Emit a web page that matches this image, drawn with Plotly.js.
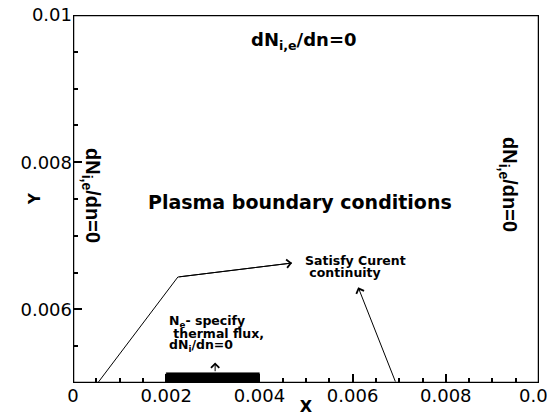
<!DOCTYPE html>
<html>
<head>
<meta charset="utf-8">
<script src="https://cdn.plot.ly/plotly-3.0.1.min.js"></script>
<style>
  html, body { margin: 0; padding: 0; background: #fff; overflow: hidden; }
  #chart { width: 547px; height: 416px; }
</style>
</head>
<body>
<div id="chart"></div>
<script>
// Axis ranges and ticks
const xRange = [0, 0.01];
const yRange = [0.005, 0.01];
const xTickVals = [0, 0.002, 0.004, 0.006, 0.008, 0.01];
const xTickText = ['0', '0.002', '0.004', '0.006', '0.008', '0.01'];
const yTickVals = [0.006, 0.008, 0.01];
const yTickText = ['0.006', '0.008', '0.01'];
const minorStep = 0.0005;

// Domain boundary (the frame of the computational box) built from the axis ranges
const frameX = [xRange[0], xRange[1], xRange[1], xRange[0], xRange[0]];
const frameY = [yRange[0], yRange[0], yRange[1], yRange[1], yRange[0]];

// Electrode (black bar on the bottom boundary)
const electrodeX = [0.002, 0.004, 0.004, 0.002, 0.002];
const electrodeY = [0.005, 0.005, 0.00514, 0.00514, 0.005];

// Leader line to "Satisfy Curent continuity" (bottom-left -> kink -> arrow tip)
const leaderX = [0.00053, 0.00225, 0.0047];
const leaderY = [0.005, 0.00644, 0.00663];

// Second arrow (from bottom boundary up to the label)
const arrow2Tail = [0.00693, 0.005];
const arrow2Tip = [0.00612, 0.0063];

// Small vertical arrow from electrode up to its label
const arrow3Tail = [0.00305, 0.00514];
const arrow3Tip = [0.00305, 0.00528];

// Labels
const topLabel = { text: '<b>dN<sub>i,e</sub>/dn=0</b>', x: 0.00496, y: 0.009647 };
const leftLabel = { text: '<b>dN<sub>i,e</sub>/dn=0</b>', x: 0.000408, y: 0.007554 };
const rightLabel = { text: '<b>dN<sub>i,e</sub>/dn=0</b>', x: 0.009356, y: 0.00769 };
const centerLabel = { text: '<b>Plasma boundary conditions</b>', x: 0.004871, y: 0.007459 };
const currentLines = ['<b>Satisfy Curent</b>', '<b>\u00a0continuity</b>'];
const currentX = 0.004936;
const currentY = [0.006658, 0.006495];
const electrodeLines = ['<b>N<sub>e</sub>- specify</b>', '<b>\u00a0thermal flux,</b>', '<b>dN<sub>i</sub>/dn=0</b>'];
const electrodeLabelX = 0.002017;
const electrodeLabelY = [0.005842, 0.005666, 0.005503];

const tickFont = { family: 'DejaVu Sans', size: 18, color: '#000' };
const boldFont = (size) => ({ family: 'DejaVu Sans', size: size, color: '#000' });
const rotFont = { family: 'Liberation Sans, Arial, sans-serif', size: 20, color: '#000' };

const traces = [
  { x: electrodeX, y: electrodeY, type: 'scatter', mode: 'lines', fill: 'toself', fillcolor: '#000', line: { color: '#000', width: 0.5 }, hoverinfo: 'skip' },
  { x: leaderX, y: leaderY, type: 'scatter', mode: 'lines', line: { color: '#000', width: 1 }, hoverinfo: 'skip' },
  { x: frameX, y: frameY, type: 'scatter', mode: 'lines', line: { color: '#000', width: 2.5 }, cliponaxis: false, hoverinfo: 'skip' }
];

const annotations = [];
function arrow(tail, tip) {
  annotations.push({ x: tip[0], y: tip[1], ax: tail[0], ay: tail[1], xref: 'x', yref: 'y', axref: 'x', ayref: 'y',
    text: '', showarrow: true, arrowhead: 4, arrowsize: 1.6, arrowwidth: 1, arrowcolor: '#000', standoff: 0, startstandoff: 0 });
}
arrow([leaderX[1], leaderY[1]], [leaderX[2], leaderY[2]]);
arrow(arrow2Tail, arrow2Tip);
arrow(arrow3Tail, arrow3Tip);
annotations.push({ x: topLabel.x, y: topLabel.y, xref: 'x', yref: 'y', text: topLabel.text, showarrow: false, font: boldFont(18) });
annotations.push({ x: leftLabel.x, y: leftLabel.y, xref: 'x', yref: 'y', text: leftLabel.text, showarrow: false, font: rotFont, textangle: 90 });
annotations.push({ x: rightLabel.x, y: rightLabel.y, xref: 'x', yref: 'y', text: rightLabel.text, showarrow: false, font: rotFont, textangle: 90 });
annotations.push({ x: centerLabel.x, y: centerLabel.y, xref: 'x', yref: 'y', text: centerLabel.text, showarrow: false, font: boldFont(19) });
currentLines.forEach((t, i) => annotations.push({ x: currentX, y: currentY[i], xref: 'x', yref: 'y', text: t, showarrow: false, font: boldFont(12.5), xanchor: 'left', align: 'left' }));
electrodeLines.forEach((t, i) => annotations.push({ x: electrodeLabelX, y: electrodeLabelY[i], xref: 'x', yref: 'y', text: t, showarrow: false, font: boldFont(12.5), xanchor: 'left', align: 'left' }));
// Y axis title, placed inside the tick-label column as in the reference
annotations.push({ x: -0.0815, y: 0.5, xref: 'paper', yref: 'paper', text: '<b>Y</b>', showarrow: false, font: boldFont(15), textangle: -90, xanchor: 'center', yanchor: 'middle' });

const minorTicks = { dtick: minorStep, tick0: 0, ticks: 'inside', ticklen: 5, tickwidth: 1.5, tickcolor: '#000', showgrid: false };
const axisCommon = { showline: false, showgrid: false, zeroline: false,
  ticks: 'inside', ticklen: 9, tickwidth: 1.5, tickcolor: '#000', tickmode: 'array', tickfont: tickFont, ticklabeloverflow: 'allow' };

const layout = {
  width: 547, height: 416,
  margin: { l: 73, r: 8, t: 15, b: 33, pad: 0 },
  showlegend: false,
  xaxis: Object.assign({}, axisCommon, { range: xRange, tickvals: xTickVals, ticktext: xTickText, minor: minorTicks,
    title: { text: '<b>X</b>', font: boldFont(16), standoff: 2 } }),
  yaxis: Object.assign({}, axisCommon, { range: yRange, tickvals: yTickVals, ticktext: yTickText, minor: minorTicks }),
  annotations: annotations
};

Plotly.newPlot('chart', traces, layout, { displayModeBar: false });
</script>
</body>
</html>
